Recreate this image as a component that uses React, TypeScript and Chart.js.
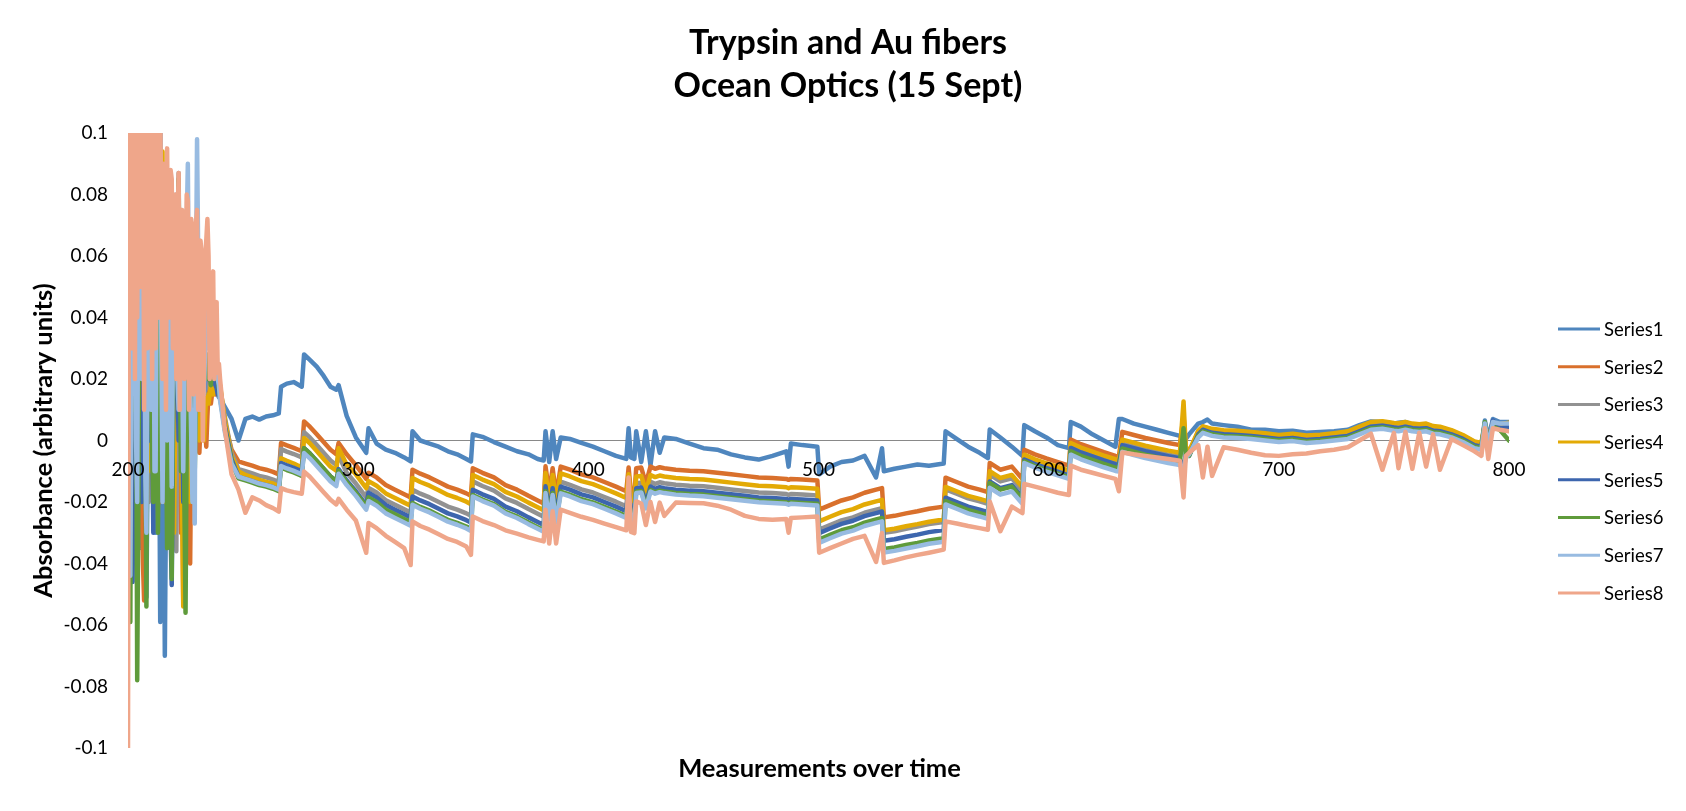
import { useEffect, useRef } from 'react';
import { Chart, registerables } from 'chart.js';

Chart.register(...registerables);

// Chart texts
const titleLines = ['Trypsin and Au fibers', 'Ocean Optics (15 Sept)'];
const xAxisTitle = 'Measurements over time';
const yAxisTitle = 'Absorbance (arbitrary units)';
const seriesNames = ['Series1', 'Series2', 'Series3', 'Series4', 'Series5', 'Series6', 'Series7', 'Series8'];
const seriesColors = ['#4F86BE', '#D9702C', '#929292', '#E3AA05', '#3D66AE', '#5F9B3B', '#98BBE1', '#EFA68A'];

// Axis ranges / ticks
const xMin = 200;
const xMax = 800;
const xStep = 100;
const yMin = -0.1;
const yMax = 0.1;
const yStep = 0.02;

// Shared measurement positions (x)
const measurement = [
  200, 200.5, 201, 201.5, 202, 202.5, 203, 203.5, 204, 204.5,
  205, 205.5, 206, 206.5, 207, 207.5, 208, 208.5, 209, 209.5,
  210, 210.5, 211, 211.5, 212, 212.5, 213, 213.5, 214, 214.5,
  215, 215.5, 216, 216.5, 217, 217.5, 218, 218.5, 219, 219.5,
  220, 220.5, 221, 221.5, 222, 222.5, 223, 223.5, 224, 224.5,
  225, 225.5, 226, 226.5, 227, 227.5, 228, 228.5, 229, 229.5,
  230, 230.5, 231, 231.5, 232, 232.5, 233, 233.5, 234, 234.5,
  235, 235.5, 236, 236.5, 237, 237.5, 238, 238.5, 239, 239.5,
  240, 242, 245, 248, 251, 254, 257, 260, 263, 265.5,
  266.5, 269, 272, 275.5, 276.5, 279, 282, 285, 288, 290.5,
  291.5, 295, 299, 303.5, 304.5, 308, 312, 316, 320, 322.8,
  323.6, 327, 331, 335, 339, 343, 347, 349, 349.8, 354,
  359, 364, 369, 374, 378, 380.6, 381.4, 383, 384.5, 386,
  388, 392, 397, 402, 407, 412, 416.5, 417.5, 418.5, 420,
  420.8, 423, 425, 427, 429, 431, 433, 438, 444, 450,
  456, 462, 468, 474, 480, 486, 487, 488, 493, 499.5,
  500.3, 505, 510, 515, 520, 525, 527.6, 528.4, 533, 538,
  543, 548, 554.4, 555.2, 560, 565, 570, 573.6, 574.4, 579,
  584, 588.6, 589.4, 594, 599, 604, 608.8, 609.6, 614, 619,
  624, 629, 630.5, 632, 637, 642, 647, 652, 657, 658.6,
  659.6, 661, 665, 667, 669, 671, 676, 682, 688, 694,
  700, 706, 712, 718, 724, 730, 735, 740, 745, 750,
  752, 755, 758, 761, 764, 767, 770, 775, 780, 785,
  788, 789.5, 791, 793, 796, 800,
];

const series1 = [
  0.01, 0.03, -0.03, 0.0, 0.05, 0.02, -0.02, 0.01, 0.04, 0.0,
  -0.035, 0.0, 0.02, 0.04, 0.06, 0.01, -0.051, -0.01, 0.03, 0.01,
  -0.01, 0.02, 0.045, 0.0, -0.03, 0.0, 0.02, 0.01, -0.059, 0.0,
  0.03, 0.0, -0.07, -0.02, 0.01, 0.03, 0.04, 0.0, -0.04, -0.01,
  0.02, 0.01, -0.015, 0.01, 0.035, 0.02, 0.0, 0.015, 0.03, 0.01,
  -0.02, 0.0, 0.025, 0.02, 0.01, 0.015, 0.02, 0.012, 0.005, 0.015,
  0.03, 0.02, 0.015, 0.02, 0.025, 0.018, 0.012, 0.016, 0.02, 0.017,
  0.015, 0.02, 0.025, 0.022, 0.018, 0.02, 0.016, 0.015, 0.015, 0.014,
  0.014, 0.011, 0.007, 0.0, 0.007, 0.0078, 0.0068, 0.0078, 0.0082, 0.0088,
  0.0175, 0.0185, 0.019, 0.0175, 0.028, 0.0262, 0.024, 0.021, 0.0175, 0.0165,
  0.018, 0.008, 0.001, -0.004, 0.004, -0.001, -0.003, -0.004, -0.0055, -0.0068,
  0.003, 0.0, -0.001, -0.002, -0.0035, -0.0045, -0.006, -0.0068, 0.002, 0.0012,
  -0.0005, -0.002, -0.0035, -0.0045, -0.006, -0.0065, 0.003, -0.007, 0.003, -0.006,
  0.001, 0.0005, -0.0008, -0.002, -0.0035, -0.005, -0.006, 0.004, -0.0055, -0.006,
  0.003, -0.007, 0.003, -0.008, 0.003, -0.004, 0.001, 0.0005, -0.001, -0.0025,
  -0.003, -0.0045, -0.0055, -0.0062, -0.005, -0.0035, -0.0085, -0.001, -0.0015, -0.002,
  -0.011, -0.0085, -0.007, -0.0065, -0.005, -0.012, -0.0025, -0.01, -0.0092, -0.0085,
  -0.0078, -0.0082, -0.0075, 0.003, 0.0005, -0.002, -0.004, -0.0057, 0.0036, 0.001,
  -0.002, -0.005, 0.005, 0.003, 0.001, -0.0015, -0.0025, 0.006, 0.0045, 0.002,
  0.0, -0.002, 0.007, 0.007, 0.0055, 0.0045, 0.0035, 0.0025, 0.0015, 0.001,
  0.0005, 0.002, 0.0055, 0.006, 0.0068, 0.0055, 0.005, 0.0045, 0.0035, 0.0035,
  0.003, 0.0032, 0.0025, 0.0028, 0.003, 0.0035, 0.005, 0.0062, 0.006, 0.0055,
  0.0058, 0.006, 0.0052, 0.005, 0.0052, 0.0045, 0.004, 0.003, 0.0015, -0.0005,
  -0.0015, 0.0065, 0.0005, 0.007, 0.006, 0.006,
];

const series2 = [
  0.04, 0.07, 0.1, 0.03, -0.01, 0.02, 0.06, 0.04, 0.02, 0.05,
  0.08, 0.03, -0.02, -0.04, -0.052, 0.0, 0.05, 0.03, 0.01, 0.04,
  0.07, 0.02, -0.01, 0.02, 0.04, 0.06, 0.08, 0.01, -0.02, 0.02,
  0.05, 0.03, 0.02, 0.04, 0.06, 0.02, -0.01, 0.01, 0.03, 0.05,
  0.07, 0.02, 0.0, 0.03, 0.05, 0.0, -0.03, -0.01, -0.052, 0.0,
  0.04, 0.02, 0.01, -0.01, -0.04, 0.0, 0.03, 0.02, 0.02, 0.01,
  0.01, 0.0, -0.004, 0.005, 0.012, 0.015, 0.01, 0.004, -0.002, 0.008,
  0.016, 0.012, 0.012, 0.015, 0.018, 0.02, 0.015, 0.017, 0.02, 0.017,
  0.015, 0.006, -0.003, -0.0068, -0.0075, -0.0082, -0.009, -0.0095, -0.0102, -0.011,
  -0.0008, -0.0016, -0.0024, -0.0035, 0.0062, 0.0045, 0.002, -0.0005, -0.003, -0.0045,
  -0.0008, -0.0045, -0.008, -0.0125, -0.0105, -0.012, -0.0145, -0.016, -0.0175, -0.0185,
  -0.0095, -0.0108, -0.012, -0.0135, -0.015, -0.016, -0.0172, -0.018, -0.009, -0.0105,
  -0.012, -0.0145, -0.016, -0.018, -0.0195, -0.0205, -0.0084, -0.017, -0.009, -0.018,
  -0.0085, -0.0095, -0.011, -0.012, -0.0135, -0.015, -0.0165, -0.0088, -0.017, -0.0177,
  -0.009, -0.0088, -0.014, -0.0085, -0.0092, -0.0087, -0.009, -0.0095, -0.0098, -0.01,
  -0.0105, -0.011, -0.0115, -0.012, -0.0122, -0.0125, -0.0128, -0.0125, -0.0127, -0.013,
  -0.0225, -0.021, -0.0195, -0.0185, -0.017, -0.016, -0.0155, -0.025, -0.0245, -0.0237,
  -0.023, -0.0222, -0.0215, -0.0121, -0.0135, -0.015, -0.016, -0.0168, -0.0073, -0.0095,
  -0.0085, -0.0125, -0.003, -0.0045, -0.0058, -0.007, -0.0082, 0.0003, -0.0012, -0.0025,
  -0.0038, -0.005, -0.0052, 0.0028, 0.0018, 0.0008, 0.0, -0.0008, -0.0015, 0.008,
  -0.002, -0.004, 0.003, 0.0045, 0.004, 0.0035, 0.003, 0.0028, 0.0025, 0.002,
  0.0015, 0.0018, 0.0012, 0.0015, 0.002, 0.0025, 0.004, 0.0055, 0.0058, 0.0052,
  0.005, 0.0055, 0.005, 0.0048, 0.005, 0.0042, 0.004, 0.003, 0.0015, -0.0005,
  -0.001, 0.005, 0.0, 0.0055, 0.005, 0.0055,
];

const series3 = [
  0.03, 0.05, 0.07, 0.02, -0.02, 0.01, 0.05, 0.08, 0.1, 0.03,
  -0.01, 0.03, 0.06, 0.04, 0.02, 0.06, 0.09, 0.02, -0.02, 0.05,
  0.11, 0.06, 0.03, 0.04, 0.05, 0.01, -0.025, 0.05, 0.12, 0.04,
  0.01, 0.03, 0.06, 0.04, 0.02, 0.03, 0.045, 0.02, 0.0, 0.02,
  0.04, 0.0, -0.036, 0.03, 0.087, 0.04, 0.01, 0.02, 0.03, 0.0,
  -0.01, 0.02, 0.035, 0.02, 0.005, 0.015, 0.025, 0.015, 0.01, 0.015,
  0.02, 0.018, 0.012, 0.015, 0.018, 0.014, 0.01, 0.016, 0.02, 0.018,
  0.017, 0.02, 0.022, 0.021, 0.02, 0.018, 0.019, 0.017, 0.016, 0.017,
  0.017, 0.008, -0.004, -0.0093, -0.01, -0.0107, -0.0115, -0.012, -0.0127, -0.0135,
  -0.0028, -0.0036, -0.0044, -0.0055, 0.0027, 0.001, -0.0015, -0.004, -0.0065, -0.008,
  -0.0048, -0.0105, -0.014, -0.0185, -0.0154, -0.0169, -0.0194, -0.0209, -0.0224, -0.0234,
  -0.016, -0.0173, -0.0185, -0.02, -0.0215, -0.0225, -0.0237, -0.0245, -0.0133, -0.0148,
  -0.0163, -0.0188, -0.0203, -0.0223, -0.0238, -0.0248, -0.0133, -0.0215, -0.0139, -0.0225,
  -0.0134, -0.0144, -0.0159, -0.0169, -0.0184, -0.0199, -0.0214, -0.0137, -0.0219, -0.0226,
  -0.0139, -0.0137, -0.019, -0.0134, -0.0141, -0.0136, -0.0139, -0.0144, -0.0147, -0.0149,
  -0.0154, -0.0159, -0.0164, -0.0169, -0.0171, -0.0174, -0.0177, -0.0174, -0.0176, -0.0179,
  -0.029, -0.0275, -0.026, -0.025, -0.0235, -0.0225, -0.022, -0.03, -0.0295, -0.0287,
  -0.028, -0.0272, -0.0265, -0.0159, -0.0173, -0.0188, -0.0198, -0.0206, -0.0111, -0.0133,
  -0.0123, -0.0163, -0.0052, -0.0067, -0.008, -0.0092, -0.0104, -0.0013, -0.0028, -0.0041,
  -0.0054, -0.0066, -0.0068, -0.001, -0.002, -0.003, -0.0038, -0.0046, -0.0053, 0.006,
  -0.0035, -0.0045, 0.0025, 0.004, 0.0035, 0.003, 0.0025, 0.0023, 0.002, 0.0015,
  0.001, 0.0013, 0.0007, 0.001, 0.0015, 0.002, 0.0035, 0.005, 0.0053, 0.0047,
  0.0045, 0.005, 0.0045, 0.0043, 0.0045, 0.0037, 0.0035, 0.0025, 0.001, -0.001,
  -0.0015, 0.0045, -0.0005, 0.005, 0.0045, 0.005,
];

const series4 = [
  0.05, 0.03, 0.0, 0.04, 0.08, 0.02, -0.02, 0.05, 0.09, 0.06,
  0.03, 0.07, 0.1, 0.04, 0.0, 0.03, 0.07, 0.1, 0.12, 0.02,
  -0.01, 0.03, 0.06, 0.04, 0.02, 0.07, 0.1, 0.05, 0.03, 0.06,
  0.094, 0.03, -0.02, 0.01, 0.05, 0.03, 0.01, 0.04, 0.07, 0.02,
  -0.03, 0.01, 0.04, 0.05, 0.06, 0.02, 0.0, -0.02, -0.054, 0.0,
  0.03, 0.04, 0.05, 0.01, -0.02, 0.01, 0.04, 0.02, 0.01, 0.015,
  0.02, 0.01, 0.0, 0.005, 0.01, 0.004, 0.0, 0.008, 0.015, 0.012,
  0.012, 0.015, 0.018, 0.016, 0.015, 0.018, 0.02, 0.019, 0.018, 0.018,
  0.018, 0.007, -0.005, -0.01, -0.0112, -0.012, -0.0128, -0.0135, -0.014, -0.015,
  -0.0058, -0.0066, -0.0075, -0.0088, 0.0008, -0.0009, -0.0034, -0.006, -0.0085, -0.0098,
  -0.0025, -0.0078, -0.011, -0.0155, -0.0132, -0.0147, -0.0172, -0.0187, -0.0202, -0.0212,
  -0.0122, -0.0135, -0.0147, -0.0162, -0.0177, -0.0187, -0.0199, -0.0207, -0.0112, -0.0127,
  -0.0142, -0.0167, -0.0182, -0.0202, -0.0217, -0.0227, -0.0106, -0.0192, -0.0112, -0.02,
  -0.0107, -0.0117, -0.0132, -0.0142, -0.0157, -0.0172, -0.0187, -0.011, -0.0192, -0.0199,
  -0.0117, -0.0115, -0.0165, -0.0112, -0.0119, -0.0114, -0.0117, -0.0122, -0.0125, -0.0127,
  -0.0132, -0.0137, -0.0142, -0.0147, -0.0149, -0.0152, -0.0155, -0.0152, -0.0154, -0.0157,
  -0.0263, -0.0248, -0.0233, -0.0223, -0.0208, -0.0198, -0.0193, -0.0292, -0.0287, -0.0279,
  -0.0272, -0.0264, -0.0257, -0.0151, -0.0165, -0.018, -0.019, -0.0198, -0.01, -0.0122,
  -0.0112, -0.0152, -0.0046, -0.0061, -0.0074, -0.0086, -0.0098, -0.0008, -0.0023, -0.0036,
  -0.0049, -0.0061, -0.0063, 0.0003, -0.0007, -0.0017, -0.0025, -0.0033, -0.004, 0.0127,
  -0.003, -0.0035, 0.0032, 0.0046, 0.0042, 0.0038, 0.0033, 0.0032, 0.0028, 0.0024,
  0.0018, 0.0022, 0.0016, 0.0019, 0.0024, 0.003, 0.0045, 0.006, 0.0063, 0.0057,
  0.0056, 0.006, 0.0055, 0.0053, 0.0055, 0.0047, 0.0045, 0.0034, 0.0018, -0.0003,
  -0.0008, 0.0052, 0.0002, 0.0058, 0.0053, 0.0058,
];

const series5 = [
  0.06, 0.04, 0.02, -0.01, -0.046, 0.0, 0.04, 0.02, 0.0, 0.03,
  0.07, 0.02, -0.02, 0.0, 0.03, 0.06, 0.08, 0.03, 0.0, 0.02,
  0.05, 0.01, -0.03, 0.02, 0.06, 0.03, 0.01, 0.02, 0.04, 0.01,
  -0.02, 0.02, 0.05, 0.03, 0.02, 0.0, -0.01, -0.03, -0.047, 0.0,
  0.03, 0.04, 0.05, 0.02, 0.0, 0.02, 0.04, 0.01, -0.02, 0.0,
  0.02, 0.025, 0.03, 0.01, 0.0, 0.015, 0.025, 0.018, 0.01, 0.015,
  0.02, 0.025, 0.028, 0.022, 0.02, 0.018, 0.015, 0.02, 0.025, 0.022,
  0.02, 0.024, 0.026, 0.022, 0.02, 0.019, 0.018, 0.017, 0.015, 0.015,
  0.016, 0.005, -0.006, -0.0118, -0.0125, -0.0132, -0.014, -0.0145, -0.0152, -0.016,
  -0.0073, -0.0081, -0.0089, -0.01, -0.0025, -0.0042, -0.0067, -0.0092, -0.0117, -0.0132,
  -0.0093, -0.013, -0.0165, -0.021, -0.017, -0.0185, -0.021, -0.0225, -0.024, -0.025,
  -0.0182, -0.0195, -0.0207, -0.0222, -0.0237, -0.0247, -0.0259, -0.0267, -0.016, -0.0175,
  -0.019, -0.0215, -0.023, -0.025, -0.0265, -0.0275, -0.0149, -0.0235, -0.0155, -0.0245,
  -0.015, -0.016, -0.0175, -0.0185, -0.02, -0.0215, -0.023, -0.0153, -0.0235, -0.0242,
  -0.0155, -0.0153, -0.0205, -0.015, -0.0157, -0.0152, -0.0155, -0.016, -0.0163, -0.0165,
  -0.017, -0.0175, -0.018, -0.0185, -0.0187, -0.019, -0.0193, -0.019, -0.0192, -0.0195,
  -0.0301, -0.0286, -0.0271, -0.0261, -0.0246, -0.0236, -0.0231, -0.0326, -0.0321, -0.0313,
  -0.0306, -0.0298, -0.0291, -0.0186, -0.02, -0.0215, -0.0225, -0.0233, -0.0133, -0.0155,
  -0.0145, -0.0185, -0.0062, -0.0077, -0.009, -0.0102, -0.0114, -0.0024, -0.0039, -0.0052,
  -0.0065, -0.0077, -0.0079, -0.0015, -0.0025, -0.0035, -0.0043, -0.0051, -0.0058, -0.011,
  -0.004, -0.005, 0.002, 0.0035, 0.003, 0.0025, 0.002, 0.0018, 0.0015, 0.001,
  0.0005, 0.0008, 0.0002, 0.0005, 0.001, 0.0015, 0.003, 0.0045, 0.0048, 0.0042,
  0.004, 0.0045, 0.004, 0.0038, 0.004, 0.0032, 0.003, 0.002, 0.0005, -0.0015,
  -0.002, 0.005, -0.001, 0.0065, 0.004, 0.0045,
];

const series6 = [
  0.02, -0.03, -0.059, 0.03, 0.05, 0.02, 0.01, 0.04, -0.078, -0.02,
  0.06, 0.03, 0.02, 0.07, 0.09, 0.01, -0.054, 0.04, 0.12, 0.05,
  0.03, 0.0, -0.02, 0.04, 0.07, 0.02, -0.03, 0.01, 0.05, 0.03,
  0.0, 0.04, 0.06, 0.01, -0.035, 0.02, 0.065, 0.03, -0.045, 0.01,
  0.04, 0.05, 0.02, 0.06, 0.085, 0.03, -0.01, 0.01, 0.03, -0.02,
  -0.056, 0.0, 0.04, 0.02, 0.0, 0.03, 0.05, 0.02, -0.01, 0.01,
  0.02, 0.025, 0.03, 0.015, 0.01, 0.02, 0.025, 0.022, 0.02, 0.026,
  0.028, 0.022, 0.018, 0.024, 0.03, 0.026, 0.024, 0.02, 0.02, 0.017,
  0.014, 0.004, -0.007, -0.0123, -0.013, -0.0137, -0.0145, -0.015, -0.0157, -0.0165,
  -0.0088, -0.0096, -0.0104, -0.0115, -0.0025, -0.0042, -0.0067, -0.0092, -0.0117, -0.0132,
  -0.0098, -0.0135, -0.017, -0.0215, -0.0185, -0.02, -0.0225, -0.024, -0.0255, -0.0265,
  -0.0203, -0.0216, -0.0228, -0.0243, -0.0258, -0.0268, -0.028, -0.0288, -0.0177, -0.0192,
  -0.0207, -0.0232, -0.0247, -0.0267, -0.0282, -0.0292, -0.0165, -0.025, -0.0171, -0.026,
  -0.0166, -0.0176, -0.0191, -0.0201, -0.0216, -0.0231, -0.0246, -0.0169, -0.0251, -0.0258,
  -0.0166, -0.0164, -0.0216, -0.0161, -0.0168, -0.0163, -0.0166, -0.0171, -0.0174, -0.0176,
  -0.0181, -0.0186, -0.0191, -0.0196, -0.0198, -0.0201, -0.0204, -0.0201, -0.0203, -0.0206,
  -0.0322, -0.0307, -0.0292, -0.0282, -0.0267, -0.0257, -0.0252, -0.0353, -0.0348, -0.034,
  -0.0333, -0.0325, -0.0318, -0.0197, -0.0211, -0.0226, -0.0236, -0.0244, -0.0138, -0.016,
  -0.015, -0.019, -0.0068, -0.0083, -0.0096, -0.0108, -0.012, -0.0035, -0.005, -0.0063,
  -0.0076, -0.0088, -0.009, -0.0026, -0.0036, -0.0046, -0.0054, -0.0062, -0.0069, 0.004,
  -0.0045, -0.005, 0.0015, 0.003, 0.0025, 0.002, 0.0015, 0.0013, 0.001, 0.0005,
  0.0, 0.0003, -0.0003, 0.0, 0.0005, 0.001, 0.0025, 0.004, 0.0043, 0.0037,
  0.0035, 0.004, 0.0035, 0.0033, 0.0035, 0.0027, 0.0025, 0.0015, 0.0, -0.002,
  -0.0025, 0.006, -0.0015, 0.0045, 0.0035, 0.0,
];

const series7 = [
  0.03, 0.06, -0.044, 0.02, 0.06, 0.09, 0.1, 0.0, -0.02, 0.07,
  0.11, 0.03, 0.02, 0.06, 0.08, -0.01, -0.03, 0.04, 0.05, 0.08,
  0.01, 0.05, 0.09, -0.01, -0.01, 0.06, 0.04, 0.1, 0.11, 0.03,
  -0.02, 0.02, 0.06, 0.04, 0.0, 0.05, 0.07, 0.02, -0.015, 0.03,
  0.04, 0.06, 0.08, 0.02, 0.01, 0.04, 0.06, 0.03, -0.01, 0.02,
  0.05, 0.07, 0.09, 0.04, 0.02, 0.0, -0.02, 0.01, -0.027, 0.05,
  0.098, 0.06, 0.03, 0.01, 0.05, 0.03, 0.015, 0.03, 0.04, 0.05,
  0.03, 0.04, 0.053, 0.045, 0.035, 0.03, 0.025, 0.028, 0.02, 0.018,
  0.013, 0.003, -0.0075, -0.0118, -0.0125, -0.0132, -0.014, -0.0145, -0.0152, -0.016,
  -0.0083, -0.0091, -0.0099, -0.011, -0.0041, -0.0058, -0.0083, -0.0108, -0.0133, -0.0148,
  -0.0108, -0.0145, -0.018, -0.0225, -0.0197, -0.0212, -0.0237, -0.0252, -0.0267, -0.0277,
  -0.0209, -0.0222, -0.0234, -0.0249, -0.0264, -0.0274, -0.0286, -0.0294, -0.0182, -0.0197,
  -0.0212, -0.0237, -0.0252, -0.0272, -0.0287, -0.0297, -0.0171, -0.0257, -0.0177, -0.0267,
  -0.0172, -0.0182, -0.0197, -0.0207, -0.0222, -0.0237, -0.0252, -0.0175, -0.0257, -0.0264,
  -0.0171, -0.0169, -0.0221, -0.0166, -0.0173, -0.0168, -0.0171, -0.0176, -0.0179, -0.0181,
  -0.0186, -0.0191, -0.0196, -0.0201, -0.0203, -0.0206, -0.0209, -0.0206, -0.0208, -0.0211,
  -0.0333, -0.0318, -0.0303, -0.0293, -0.0278, -0.0268, -0.0263, -0.0364, -0.0359, -0.0351,
  -0.0344, -0.0336, -0.0329, -0.0208, -0.0222, -0.0237, -0.0247, -0.0255, -0.0154, -0.0176,
  -0.0166, -0.0206, -0.0073, -0.0088, -0.0101, -0.0113, -0.0125, -0.0046, -0.0061, -0.0074,
  -0.0087, -0.0099, -0.0101, -0.0037, -0.0047, -0.0057, -0.0065, -0.0073, -0.008, -0.009,
  -0.0055, -0.0045, 0.001, 0.0025, 0.002, 0.0015, 0.001, 0.0008, 0.0005, 0.0,
  -0.0005, -0.0002, -0.0008, -0.0005, 0.0, 0.0005, 0.002, 0.0035, 0.0038, 0.0032,
  0.003, 0.0035, 0.003, 0.0028, 0.003, 0.0022, 0.002, 0.001, -0.0005, -0.0025,
  -0.003, 0.0055, -0.002, 0.006, 0.0055, 0.0055,
];

const series8 = [
  -0.1, 0.12, 0.09, 0.03, 0.08, 0.11, 0.02, 0.12, 0.04, 0.1,
  0.12, 0.05, 0.09, 0.12, 0.01, 0.12, 0.07, 0.03, 0.1, 0.11,
  0.07, 0.02, 0.12, 0.08, 0.03, 0.1, 0.09, 0.04, 0.11, 0.06,
  0.02, 0.09, 0.08, 0.01, 0.095, 0.05, 0.04, 0.088, 0.085, 0.03,
  0.06, 0.08, 0.02, 0.07, 0.087, 0.01, 0.05, 0.075, 0.07, 0.02,
  0.035, 0.08, 0.078, 0.01, 0.03, 0.072, 0.068, 0.015, 0.05, 0.07,
  0.075, 0.01, 0.03, 0.065, 0.06, 0.0, 0.025, 0.06, 0.065, 0.072,
  0.06, 0.02, 0.035, 0.05, 0.055, 0.02, 0.03, 0.045, 0.022, 0.025,
  0.02, 0.004, -0.011, -0.016, -0.0235, -0.0185, -0.0195, -0.021, -0.022, -0.0231,
  -0.0155, -0.0162, -0.0168, -0.0173, -0.0101, -0.0118, -0.0143, -0.0168, -0.0193, -0.0208,
  -0.019, -0.0225, -0.026, -0.0365, -0.0268, -0.0285, -0.031, -0.033, -0.035, -0.0405,
  -0.0263, -0.0278, -0.029, -0.0305, -0.032, -0.033, -0.0345, -0.0372, -0.0247, -0.0262,
  -0.0275, -0.0292, -0.0303, -0.0315, -0.0323, -0.0328, -0.0225, -0.0335, -0.023, -0.0335,
  -0.0225, -0.0235, -0.0248, -0.0258, -0.027, -0.0282, -0.0292, -0.012, -0.0297, -0.0301,
  -0.0198, -0.0205, -0.0275, -0.02, -0.0265, -0.0202, -0.0245, -0.0202, -0.0203, -0.0204,
  -0.0212, -0.0225, -0.0245, -0.0255, -0.0258, -0.0255, -0.03, -0.0252, -0.025, -0.0247,
  -0.0365, -0.035, -0.0335, -0.032, -0.031, -0.0395, -0.0301, -0.0398, -0.039, -0.038,
  -0.0372, -0.0365, -0.0355, -0.0263, -0.027, -0.0278, -0.0285, -0.029, -0.0198, -0.0295,
  -0.0215, -0.0236, -0.0141, -0.015, -0.016, -0.017, -0.0177, -0.0082, -0.0095, -0.0105,
  -0.0115, -0.0125, -0.0165, -0.0039, -0.0045, -0.005, -0.0055, -0.006, -0.0066, -0.0185,
  -0.005, -0.004, -0.0015, -0.012, -0.002, -0.0115, -0.0022, -0.003, -0.004, -0.0048,
  -0.005, -0.0045, -0.0042, -0.0035, -0.003, -0.0022, 0.0, 0.0022, -0.0095, 0.0025,
  -0.009, 0.0028, -0.0092, 0.0025, -0.0085, 0.002, -0.0095, 0.0005, -0.0015, -0.0035,
  -0.005, 0.004, -0.006, 0.004, 0.0035, 0.003,
];

const seriesValues = [series1, series2, series3, series4, series5, series6, series7, series8];

const FONT = 'Lato, "Open Sans", sans-serif';

const textPlugin = {
  id: 'chartTexts',
  afterDraw(chart: any) {
    const { ctx, chartArea } = chart;
    ctx.save();
    ctx.fillStyle = '#000';
    // Title
    ctx.textAlign = 'center';
    ctx.textBaseline = 'alphabetic';
    ctx.font = `bold 34px ${FONT}`;
    ctx.fillText(titleLines[0], 848, 54);
    ctx.fillText(titleLines[1], 848, 97);
    // Axis titles
    ctx.font = `bold 25.5px ${FONT}`;
    ctx.fillText(xAxisTitle, (chartArea.left + chartArea.right) / 2 + 1, 777);
    ctx.save();
    ctx.textBaseline = 'middle';
    ctx.translate(44, (chartArea.top + chartArea.bottom) / 2);
    ctx.rotate(-Math.PI / 2);
    ctx.fillText(yAxisTitle, 0, 0);
    ctx.restore();
    // Legend
    ctx.font = `18.5px ${FONT}`;
    ctx.textAlign = 'left';
    ctx.textBaseline = 'middle';
    chart.data.datasets.forEach((ds: any, i: number) => {
      const y = 329 + i * 37.7;
      ctx.strokeStyle = ds.borderColor;
      ctx.lineWidth = 3;
      ctx.lineCap = 'butt';
      ctx.beginPath();
      ctx.moveTo(1558, y);
      ctx.lineTo(1600, y);
      ctx.stroke();
      ctx.fillStyle = '#000';
      ctx.fillText(ds.label, 1604, y + 1);
    });
    ctx.restore();
  },
};

export default function App() {
  const canvasRef = useRef<HTMLCanvasElement | null>(null);

  useEffect(() => {
    if (!canvasRef.current) return;
    const datasets = seriesValues.map((vals, i) => ({
      label: seriesNames[i],
      data: measurement.map((x, j) => ({ x, y: vals[j] })),
      borderColor: seriesColors[i],
      backgroundColor: seriesColors[i],
      borderWidth: 4.5,
      pointRadius: 0,
      pointHoverRadius: 0,
      tension: 0,
      fill: false,
      borderJoinStyle: 'round' as const,
      borderCapStyle: 'round' as const,
      order: seriesValues.length - i,
    }));

    const chart = new Chart(canvasRef.current, {
      type: 'line',
      data: { datasets },
      options: {
        animation: false,
        responsive: true,
        maintainAspectRatio: false,
        layout: { padding: { left: 0, top: 133, right: 177, bottom: 63 } },
        plugins: {
          legend: { display: false },
          title: { display: false },
          tooltip: { enabled: false },
        },
        scales: {
          x: {
            type: 'linear',
            position: { y: 0 } as any,
            min: xMin,
            max: xMax,
            grid: { display: false, drawTicks: false },
            border: { display: true, color: '#898989', width: 1, z: 0 },
            ticks: {
              z: 1,
              stepSize: xStep,
              color: '#000',
              font: { family: FONT, size: 19 },
              padding: 18,
              maxRotation: 0,
              autoSkip: false,
              callback: (v: any) => String(v),
            },
            afterFit: (s: any) => {
              s.paddingLeft = 0;
              s.paddingRight = 0;
              s.paddingTop = 0;
              s.paddingBottom = 0;
            },
          },
          y: {
            type: 'linear',
            min: yMin,
            max: yMax,
            grid: { display: false, drawTicks: false },
            border: { display: false },
            ticks: {
              stepSize: yStep,
              color: '#000',
              font: { family: FONT, size: 19 },
              padding: 20,
              callback: (v: any) => String(Math.round(Number(v) * 100) / 100),
            },
            afterFit: (s: any) => {
              s.width = 128;
              s.paddingTop = 0;
              s.paddingBottom = 0;
              s.paddingLeft = 0;
              s.paddingRight = 0;
            },
          },
        },
      },
      plugins: [textPlugin],
    });
    return () => chart.destroy();
  }, []);

  return (
    <div style={{ position: 'fixed', left: 0, top: 0, width: 1686, height: 811, background: '#fff' }}>
      <canvas ref={canvasRef} />
    </div>
  );
}
